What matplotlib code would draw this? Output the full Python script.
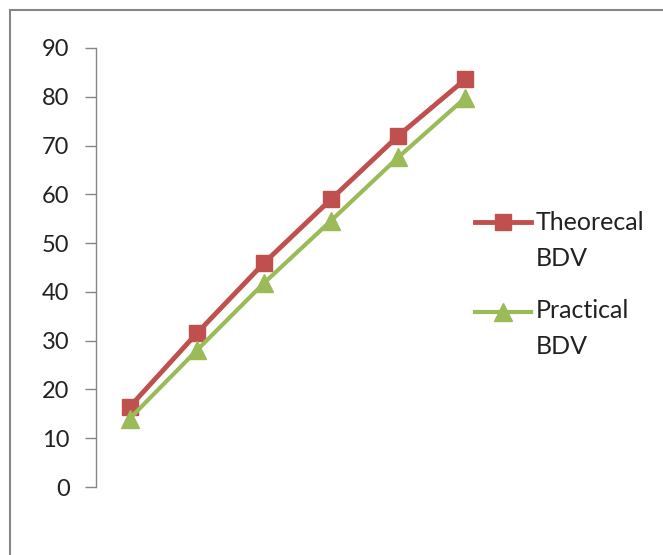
import matplotlib
matplotlib.use("Agg")
import matplotlib.pyplot as plt
from matplotlib.lines import Line2D
from matplotlib.patches import Rectangle

categories = [1, 2, 3, 4, 5, 6]
theoretical_bdv = [16.4, 31.5, 45.9, 59.0, 72.0, 83.6]
practical_bdv = [14.0, 28.0, 41.8, 54.6, 67.6, 79.8]
yticks = [0, 10, 20, 30, 40, 50, 60, 70, 80, 90]
labels = ["Theorecal\nBDV", "Practical\nBDV"]

RED = "#C0504D"
GREEN = "#9BBB59"
GRAY = "#868686"

plt.rcParams['font.family'] = ['Lato', 'DejaVu Sans']

W, H = 663, 555
fig = plt.figure(figsize=(W / 100, H / 100), dpi=100)
ax = fig.add_axes([96 / W, 1 - 487 / H, (499 - 96) / W, (487 - 48) / H])

ax.plot(categories, theoretical_bdv, color=RED, lw=3.5, marker='s', ms=12,
        markeredgecolor=RED, markerfacecolor=RED, zorder=3)
ax.plot(categories, practical_bdv, color=GREEN, lw=3.0, marker='^', ms=13,
        markeredgecolor=GREEN, markerfacecolor=GREEN, zorder=4)

ax.set_xlim(0.5, 6.5)
ax.set_ylim(0, 90)
ax.set_yticks(yticks)
ax.set_xticks([])
for s in ['top', 'right', 'bottom']:
    ax.spines[s].set_visible(False)
ax.spines['left'].set_color(GRAY)
ax.spines['left'].set_linewidth(1.0)
ax.tick_params(axis='y', direction='out', length=8, width=1.0, color=GRAY,
               labelsize=17, labelcolor='#222222', pad=11)

# outer chart frame
fig.add_artist(Rectangle((10 / W, -0.1), 1.2, 1 - 10 / H + 0.1,
                         transform=fig.transFigure, fill=False,
                         edgecolor=GRAY, lw=1.5))

# legend (manual, Excel style)
def px(x, y):
    return x / W, 1 - y / H

entries = [(RED, 's', 12, 3.5, 222), (GREEN, '^', 13, 3.0, 312)]
text_y = [222, 310]
for (c, m, ms, lw, yy), lab, ty in zip(entries, labels, text_y):
    x0, y0 = px(475, yy)
    x1, _ = px(531, yy)
    fig.add_artist(Line2D([x0, x1], [y0, y0], color=c, lw=lw,
                          transform=fig.transFigure))
    fig.add_artist(Line2D([(x0 + x1) / 2], [y0], color=c, marker=m, ms=ms,
                          markeredgecolor=c, markerfacecolor=c, lw=0,
                          transform=fig.transFigure))
    for k, line in enumerate(lab.split("\n")):
        tx, tyf = px(536, ty + 36 * k)
        fig.text(tx, tyf, line, ha='left', va='center', fontsize=18,
                 color='#222222')

fig.savefig("out.png", dpi=100)
